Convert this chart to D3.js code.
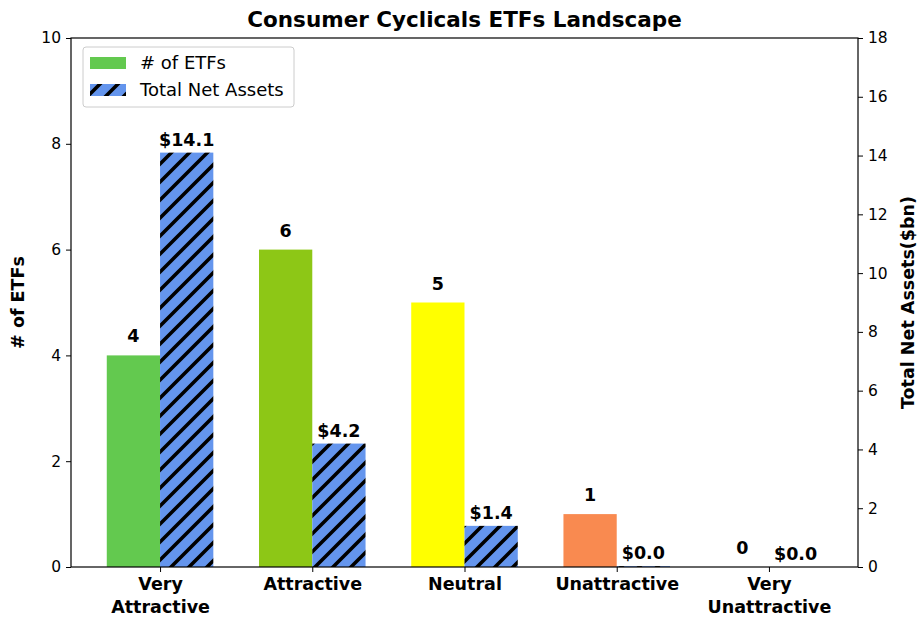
<!DOCTYPE html>
<html>
<head>
<meta charset="utf-8">
<script src="https://cdn.jsdelivr.net/npm/d3@7"></script>
<style>
  body { margin: 0; background: #fff; }
  text { font-family: "DejaVu Sans", sans-serif; }
</style>
</head>
<body>
<div id="chart"></div>
<script>
var categories = [["Very", "Attractive"], ["Attractive"], ["Neutral"], ["Unattractive"], ["Very", "Unattractive"]];
var etfCounts = [4, 6, 5, 1, 0];
var netAssets = [14.1, 4.2, 1.4, 0.03, 0];
var assetLabels = ["$14.1", "$4.2", "$1.4", "$0.0", "$0.0"];
var countColors = ["#63c94f", "#8dc716", "#ffff00", "#f98a50", "#e03030"];
var leftTicks = [0, 2, 4, 6, 8, 10];
var rightTicks = [0, 2, 4, 6, 8, 10, 12, 14, 16, 18];

var W = 917, H = 620;
var mLeft = 71, mRight = 858, mTop = 38, mBottom = 567;
var barW = 0.35;
var fsTick = 15.5, fsBold = 17.5, fsLegend = 18, fsTitle = 21.5;
var hatchStep = 18;

var svg = d3.select("#chart").append("svg")
  .attr("width", W)
  .attr("height", H);

// "/" hatch for the net assets bars
var pat = svg.append("defs").append("pattern")
  .attr("id", "hatch")
  .attr("patternUnits", "userSpaceOnUse")
  .attr("width", hatchStep)
  .attr("height", hatchStep);
pat.append("rect").attr("width", hatchStep).attr("height", hatchStep).attr("fill", "#6495ed");
var s = hatchStep;
pat.append("path")
  .attr("d", `M-4,4 L4,-4 M-4,${s + 4} L${s + 4},-4 M${s - 4},${s + 4} L${s + 4},${s - 4}`)
  .attr("stroke", "#000")
  .attr("stroke-width", 3.6);

// --- Scales ---

var scX = d3.scaleLinear().domain([-0.585, 4.585]).range([mLeft, mRight]);
var scY1 = d3.scaleLinear().domain([0, 10]).range([mBottom, mTop]);
var scY2 = d3.scaleLinear().domain([0, 18]).range([mBottom, mTop]);

// --- Bars ---

svg.append("g").selectAll("rect")
  .data(etfCounts)
  .enter()
  .append("rect")
  .attr("x", (d, i) => scX(i - barW))
  .attr("width", scX(barW) - scX(0))
  .attr("y", d => scY1(d))
  .attr("height", d => scY1(0) - scY1(d))
  .attr("fill", (d, i) => countColors[i]);

svg.append("g").selectAll("rect")
  .data(netAssets)
  .enter()
  .append("rect")
  .attr("x", (d, i) => scX(i))
  .attr("width", scX(barW) - scX(0))
  .attr("y", d => scY2(d))
  .attr("height", d => scY2(0) - scY2(d))
  .attr("fill", "url(#hatch)");

// --- Bar labels ---

svg.append("g").selectAll("text")
  .data(etfCounts)
  .enter()
  .append("text")
  .attr("x", (d, i) => scX(i - barW / 2))
  .attr("y", d => scY1(d) - 13)
  .attr("text-anchor", "middle")
  .attr("font-weight", "bold")
  .attr("font-size", fsBold)
  .text(d => d);

svg.append("g").selectAll("text")
  .data(netAssets)
  .enter()
  .append("text")
  .attr("x", (d, i) => scX(i + barW / 2))
  .attr("y", d => scY2(d) - 7)
  .attr("text-anchor", "middle")
  .attr("font-weight", "bold")
  .attr("font-size", fsBold)
  .text((d, i) => assetLabels[i]);

// --- Axes ---

var styleAxis = function(g) {
  g.select(".domain").remove();
  g.selectAll(".tick line").attr("stroke", "#000");
  g.selectAll(".tick text")
    .attr("font-family", "DejaVu Sans, sans-serif")
    .attr("font-size", fsTick)
    .attr("fill", "#000");
};

svg.append("g")
  .attr("transform", `translate(${mLeft},0)`)
  .call(d3.axisLeft(scY1).tickValues(leftTicks).tickSize(5).tickPadding(5))
  .call(styleAxis);

svg.append("g")
  .attr("transform", `translate(${mRight},0)`)
  .call(d3.axisRight(scY2).tickValues(rightTicks).tickSize(5).tickPadding(5))
  .call(styleAxis);

var xAxis = svg.append("g")
  .attr("transform", `translate(0,${mBottom})`)
  .call(d3.axisBottom(scX).tickValues(d3.range(categories.length)).tickSize(5).tickFormat(""))
  .call(styleAxis);

xAxis.selectAll(".tick").each(function(d) {
  var t = d3.select(this).append("text")
    .attr("text-anchor", "middle")
    .attr("font-weight", "bold")
    .attr("font-size", fsBold)
    .attr("fill", "#000");
  categories[d].forEach(function(line, k) {
    t.append("tspan").attr("x", 0).attr("y", 23 + k * 23).text(line);
  });
});

// frame
svg.append("rect")
  .attr("x", mLeft).attr("y", mTop)
  .attr("width", mRight - mLeft).attr("height", mBottom - mTop)
  .attr("fill", "none")
  .attr("stroke", "#000")
  .attr("stroke-width", 1.2);

// --- Titles ---

svg.append("text")
  .attr("x", (mLeft + mRight) / 2)
  .attr("y", 27)
  .attr("text-anchor", "middle")
  .attr("font-weight", "bold")
  .attr("font-size", fsTitle)
  .text("Consumer Cyclicals ETFs Landscape");

svg.append("text")
  .attr("transform", `translate(24,${(mTop + mBottom) / 2}) rotate(-90)`)
  .attr("text-anchor", "middle")
  .attr("font-weight", "bold")
  .attr("font-size", fsBold)
  .text("# of ETFs");

svg.append("text")
  .attr("transform", `translate(914,${(mTop + mBottom) / 2}) rotate(-90)`)
  .attr("text-anchor", "middle")
  .attr("font-weight", "bold")
  .attr("font-size", fsBold)
  .text("Total Net Assets($bn)");

// --- Legend ---

var legend = svg.append("g").attr("transform", "translate(83,47)");
legend.append("rect")
  .attr("width", 211).attr("height", 60)
  .attr("rx", 3)
  .attr("fill", "#fff")
  .attr("fill-opacity", 0.8)
  .attr("stroke", "#ccc");
var items = [{ label: "# of ETFs", fill: countColors[0] }, { label: "Total Net Assets", fill: "url(#hatch)" }];
items.forEach(function(it, k) {
  legend.append("rect")
    .attr("x", 7).attr("y", 10 + k * 27)
    .attr("width", 36).attr("height", 12)
    .attr("fill", it.fill);
  legend.append("text")
    .attr("x", 57).attr("y", 22 + k * 27)
    .attr("font-size", fsLegend)
    .text(it.label);
});
</script>
</body>
</html>
